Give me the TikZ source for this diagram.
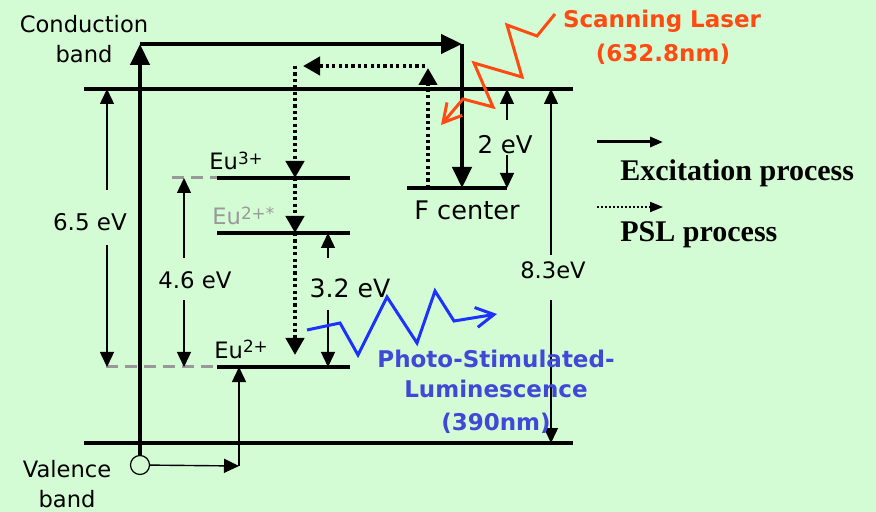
\documentclass[tikz,border=0pt]{standalone}
\usepackage{fontspec}
\setmainfont{DejaVu Sans}
\newfontfamily\legendfont{Liberation Serif}
\usepackage{tikz}
\usetikzlibrary{arrows.meta,positioning,calc}
\definecolor{mint}{HTML}{D4FCD4}
\definecolor{laser}{HTML}{FF4A12}
\definecolor{pslwave}{HTML}{1E32FF}
\definecolor{psltext}{HTML}{4048D8}
\definecolor{muted}{HTML}{999999}
\newcommand\euion[1]{\raisebox{2.6pt}{\fontsize{8.4}{9}\selectfont#1}}
\tikzset{
  level/.style={line width=2pt},
  thickarr/.style={line width=2.2pt,-{Triangle[length=10.5pt,width=9.5pt]}},
  dotarr/.style={line width=2.2pt,dash pattern=on 1.6pt off 1.6pt,-{Triangle[length=8.5pt,width=9pt]}},
  gaparr/.style={line width=0.7pt,-{Triangle[length=7.5pt,width=7pt]}},
  lbl/.style={font=\fontsize{11.3}{13}\selectfont,inner sep=0pt},
  wave/.style={line width=1.5pt,-{Straight Barb[length=9pt,width=10pt]}},
  legend/.style={font=\legendfont\bfseries\fontsize{15}{17}\selectfont,inner sep=0pt,anchor=west},
  glow/.style={font=\bfseries\fontsize{11.5}{14}\selectfont,inner sep=0pt,anchor=base}
}

\begin{document}
\begin{tikzpicture}[x=0.5pt,y=-0.5pt]
  \fill[mint] (0,0) rectangle (876,512);
  \useasboundingbox (0,0) rectangle (876,512);
  \coordinate (cbL) at (84,89);   \coordinate (cbR) at (573,89);
  \coordinate (vbL) at (84,443);  \coordinate (vbR) at (573,443);
  \coordinate (eu3L) at (217,178); \coordinate (eu3R) at (350,178);
  \coordinate (eusL) at (217,233); \coordinate (eusR) at (350,233);
  \coordinate (eu2L) at (217,367); \coordinate (eu2R) at (350,367);
  \coordinate (fL) at (407,188);  \coordinate (fR) at (507,188);
  \coordinate (eu3g) at (172,178); \coordinate (eu2g) at (106,367);
  \foreach \a/\b in {cbL/cbR, vbL/vbR, eu3L/eu3R, eusL/eusR, eu2L/eu2R, fL/fR}
    \draw[level] (\a) -- (\b);
  \foreach \a/\b in {eu3g/eu3L, eu2g/eu2L}
    \draw[line width=1.5pt,muted,dash pattern=on 6pt off 3.5pt] (\a) -- (\b);

  \node[circle,draw,line width=0.6pt,minimum size=9.5pt,inner sep=0pt] (hole) at (140,465) {};
  \coordinate (ctop) at (140,44);
  \coordinate (corner) at (462,44);
  \draw[thickarr] (hole) -- (ctop);
  \draw[thickarr] (ctop) -- (corner);
  \draw[thickarr] (corner) -- (corner |- fL);
  \coordinate (kink) at (239,466);
  \draw[gaparr] (hole) -- (kink);
  \draw[gaparr] (kink) -- (kink |- eu2L);

  \coordinate (fup) at (428,188);   \coordinate (ftop) at (428,68);
  \coordinate (hr) at (425,66);     \coordinate (hl) at (303,66);
  \coordinate (dtop) at (295,66);   \coordinate (dend) at (295,355);
  \draw[dotarr] (fup) -- (ftop);
  \draw[dotarr] (hr) -- (hl);
  \draw[dotarr] (dtop) -- (dtop |- eu3L);
  \draw[dotarr] (dtop |- eu3L) -- (dtop |- eusL);
  \draw[dotarr] (dtop |- eusL) -- (dend);

  \foreach \nm/\x/\ya/\yb/\hi/\lo in {sixfive/107/190/245/cbL/eu2L, foursix/184/258/300/eu3L/eu2L,
      threetwo/328/258/310/eusL/eu2L, two/507/120/155/cbL/fL, eightthree/551/255/300/cbL/vbL}{
    \coordinate (\nm-a) at (\x,\ya);
    \coordinate (\nm-b) at (\x,\yb);
    \draw[gaparr] (\nm-a) -- (\nm-a |- \hi);
    \draw[gaparr] (\nm-b) -- (\nm-b |- \lo);
  }
  \foreach \nm/\x/\y/\s/\t in {lab65/90/222/11.5/6.5 eV, lab46/195/280/11.4/4.6 eV, lab32/350/288/12.6/3.2 eV,
      lab2/505/145/12.2/2 eV, lab83/553/270/11.3/8.3eV, labF/467/210/12.8/F center}
    \node[lbl,font=\fontsize{\s}{13}\selectfont] (\nm) at (\x,\y) {\t};

  \node[lbl,anchor=base west] (eu3lab) at (209,170) {Eu\euion{3+}};
  \node[lbl,anchor=base west,text=muted] (euslab) at (212,225) {Eu\euion{2+*}};
  \node[lbl,anchor=base west] (eu2lab) at (214,358) {Eu\euion{2+}};
  \node[lbl,anchor=base] (cond) at (84,32.5) {Conduction};
  \node[lbl,anchor=base] (cband) at (84,63) {band};
  \node[lbl,anchor=base] (val) at (67,477) {Valence};
  \node[lbl,anchor=base] (vband) at (67,507) {band};

  \draw[wave,laser] (555,14) -- (537,36) -- (507,25) -- (522,77) -- (474,63)
    -- (493,107) -- (463,99) -- (441,125);
  \node[glow,text=laser] (scan) at (662,28) {Scanning Laser};
  \node[glow,text=laser] (scannm) at (663,62) {(632.8nm)};

  \draw[wave,pslwave] (307,330) -- (340,323) -- (358,355) -- (387,297) -- (417,343)
    -- (435,291) -- (454,321) -- (497,314);
  \node[glow,text=psltext] (psl1) at (496,367) {Photo-Stimulated-};
  \node[glow,text=psltext] (psl2) at (496,397) {Luminescence};
  \node[glow,text=psltext] (psl3) at (496,430) {(390nm)};

  \coordinate (legA) at (597,142); \coordinate (legB) at (663,142);
  \coordinate (legC) at (597,207); \coordinate (legD) at (663,207);
  \draw[line width=1.5pt,-{Triangle[length=6.5pt,width=5pt]}] (legA) -- (legB);
  \draw[line width=1pt,dash pattern=on 1pt off 1pt,-{Triangle[length=6.5pt,width=5pt]}] (legC) -- (legD);
  \node[legend] (exc) at (620,173) {Excitation process};
  \node[legend] (pslp) at (620,235) {PSL process};
\end{tikzpicture}
\end{document}
